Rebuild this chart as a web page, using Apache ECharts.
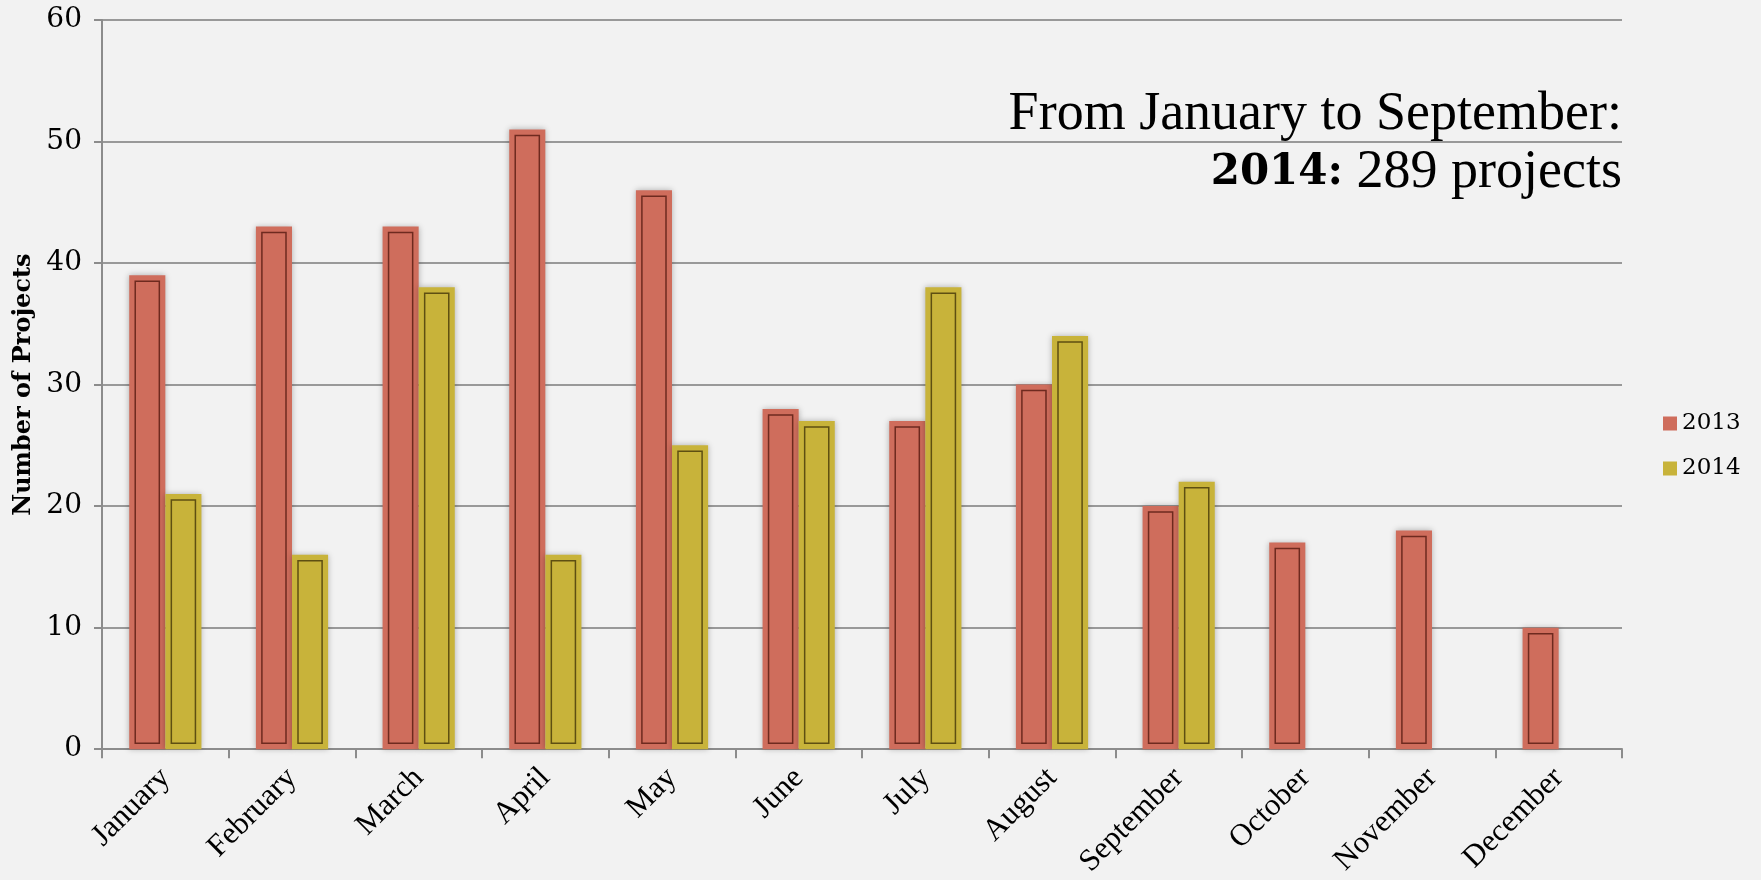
<!DOCTYPE html>
<html><head><meta charset="utf-8">
<script src="https://cdn.jsdelivr.net/npm/echarts@6/dist/echarts.min.js"></script>
<style>html,body{margin:0;padding:0;background:#f2f2f2}#c{width:1761px;height:880px}</style>
</head><body><div id="c"></div>
<script>
const months = ['January','February','March','April','May','June','July','August','September','October','November','December'];
const values2013 = [39,43,43,51,46,28,27,30,20,17,18,10];
const values2014 = [21,16,38,16,25,27,38,34,22,null,null,null];
const yTicks = [0,10,20,30,40,50,60];

const chart = echarts.init(document.getElementById('c'));

function makeRender(slot, stroke){
  return function(params, api){
    const idx = api.value(0), v = api.value(1);
    const base = api.coord([idx, 0]);
    const top = api.coord([idx, v]);
    const band = api.size([1,0])[0];
    const w = band*0.285;
    const x = slot === 0 ? base[0]-w : base[0];
    const h = base[1]-top[1];
    const color = api.visual('color');
    const ins = 6;
    return {type:'group', children:[
      {type:'rect', shape:{x:x, y:top[1], width:w, height:h},
       style:{fill:color, shadowBlur:6, shadowColor:'rgba(0,0,0,0.28)', shadowOffsetX:0, shadowOffsetY:0}},
      {type:'rect', shape:{x:x+ins, y:top[1]+ins, width:w-2*ins, height:Math.max(0,h-2*ins)},
       style:{fill:'none', stroke:stroke, lineWidth:1.5}}
    ]};
  };
}

const d2013 = values2013.map((v,i)=>[i,v]);
const d2014 = values2014.map((v,i)=>v==null?null:[i,v]).filter(d=>d);

chart.setOption({
  backgroundColor:'#f2f2f2',
  animation:false,
  title:[
    {text:'From January to September:', right:139, top:88, padding:0,
     textStyle:{fontFamily:'Liberation Serif', fontSize:54, fontWeight:'normal', color:'#000'}},
    {text:'{b|2014:}{a| 289 projects}', right:139, top:146, padding:0,
     textStyle:{fontWeight:'normal', rich:{
       a:{fontFamily:'Liberation Serif', fontSize:54, fontWeight:'normal', color:'#000'},
       b:{fontFamily:'DejaVu Serif', fontSize:42, fontWeight:'bold', color:'#000'}
     }}}
  ],
  legend:{orient:'vertical', left:1658, top:407, itemWidth:14, itemHeight:14, itemGap:22, icon:'rect',
    textStyle:{fontFamily:'DejaVu Serif', fontSize:23, color:'#000'},
    data:['2013','2014']},
  grid:{left:102, right:139, top:20, bottom:129},
  xAxis:{type:'category', data:months, boundaryGap:true,
    axisLine:{lineStyle:{color:'#8c8c8c', width:2}},
    axisTick:{show:true, length:9, lineStyle:{color:'#8c8c8c', width:2}, alignWithLabel:false},
    axisLabel:{rotate:45, interval:0, margin:24, fontFamily:'Liberation Serif', fontSize:31, color:'#000'}},
  yAxis:{type:'value', min:0, max:60, interval:10,
    name:'Number of Projects', nameLocation:'middle', nameGap:64, nameRotate:90,
    nameTextStyle:{fontFamily:'DejaVu Serif', fontSize:24, fontWeight:'bold', color:'#000'},
    axisLine:{show:true, lineStyle:{color:'#8c8c8c', width:2}},
    axisTick:{show:true, length:8, lineStyle:{color:'#8c8c8c', width:2}},
    splitLine:{lineStyle:{color:'#999', width:2}},
    axisLabel:{margin:20, fontFamily:'DejaVu Serif', fontSize:28, color:'#000',
      formatter:v=>yTicks.includes(v)?String(v):''}},
  series:[
    {name:'2013', type:'custom', itemStyle:{color:'#cf6d5c'}, renderItem:makeRender(0,'#6e2a1f'),
     encode:{x:0,y:1}, data:d2013, z:3},
    {name:'2014', type:'custom', itemStyle:{color:'#c8b33a'}, renderItem:makeRender(1,'#5e4f12'),
     encode:{x:0,y:1}, data:d2014, z:3}
  ]
});
</script></body></html>
